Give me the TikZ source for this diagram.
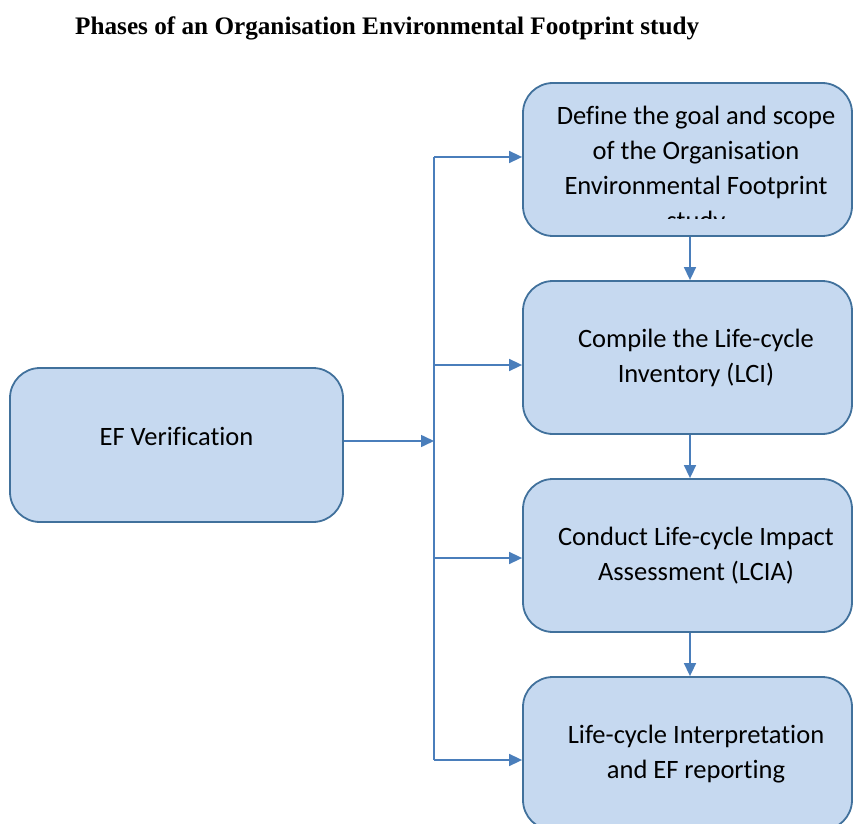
\documentclass[tikz,border=0pt]{standalone}
\usepackage{fontspec}
\setmainfont{Carlito}[Ligatures={NoCommon}]
\newfontfamily\titlefont{Liberation Serif}
\usetikzlibrary{arrows.meta}
\definecolor{boxfill}{RGB}{198,217,240}
\definecolor{boxline}{RGB}{65,113,156}
\definecolor{linkblue}{RGB}{74,126,187}
\tikzset{
  phase/.style={draw=boxline, fill=boxfill, line width=1.8pt, rounded corners=30pt,
    minimum width=329pt, minimum height=153pt, inner sep=0pt},
  boxtext/.style={align=center, font=\fontsize{26.5}{34.8}\selectfont, inner sep=0pt},
  link/.style={draw=linkblue, line width=1.6pt, -{Triangle[length=13pt,width=12pt]}},
  trunk/.style={draw=linkblue, line width=1.6pt}
}
\begin{document}
\begin{tikzpicture}[x=1pt,y=-1pt]
\useasboundingbox (0,0) rectangle (855,824);
\clip (0,0) rectangle (855,824);

% title
\node[anchor=base west, inner sep=0pt, font=\titlefont\bfseries\fontsize{25.2}{28}\selectfont]
  (title) at (75,35) {Phases of an Organisation Environmental Footprint study};

% phase boxes
\node[phase] (b1) at (687.5,159.5) {};
\node[phase] (b2) at (687.5,357.5) {};
\node[phase] (b3) at (687.5,555.5) {};
\node[phase] (b4) at (687.5,753.5) {};
\node[phase, minimum width=333pt, minimum height=154pt] (ef) at (176.5,445) {};

% box texts
\begin{scope}
  \clip (525,88) rectangle (850,219);
  \node[boxtext] (t1) at (696,170) {Define the goal and scope\\of the Organisation\\Environmental Footprint\\study};
\end{scope}
\node[boxtext] (t2) at (696,358) {Compile the Life-cycle\\Inventory (LCI)};
\node[boxtext] (t3) at (696,556) {Conduct Life-cycle Impact\\Assessment (LCIA)};
\node[boxtext] (t4) at (696,754) {Life-cycle Interpretation\\and EF reporting};
\node[boxtext] (tef) at (176.5,436) {EF Verification};

% distribution trunk
\coordinate (j1) at (434,157);
\coordinate (j2) at (434,365);
\coordinate (j3) at (434,558);
\coordinate (j4) at (434,760);
\coordinate (jef) at (434,441);
\draw[trunk] (j1) -- (j4);
\draw[link] (ef.east |- jef) -- (jef);
\draw[link] (j1) -- (j1 -| b1.west);
\draw[link] (j2) -- (j2 -| b2.west);
\draw[link] (j3) -- (j3 -| b3.west);
\draw[link] (j4) -- (j4 -| b4.west);

% sequence between phases
\draw[link] ([xshift=2.5pt]b1.south) -- ([xshift=2.5pt]b2.north);
\draw[link] ([xshift=2.5pt]b2.south) -- ([xshift=2.5pt]b3.north);
\draw[link] ([xshift=2.5pt]b3.south) -- ([xshift=2.5pt]b4.north);
\end{tikzpicture}
\end{document}
